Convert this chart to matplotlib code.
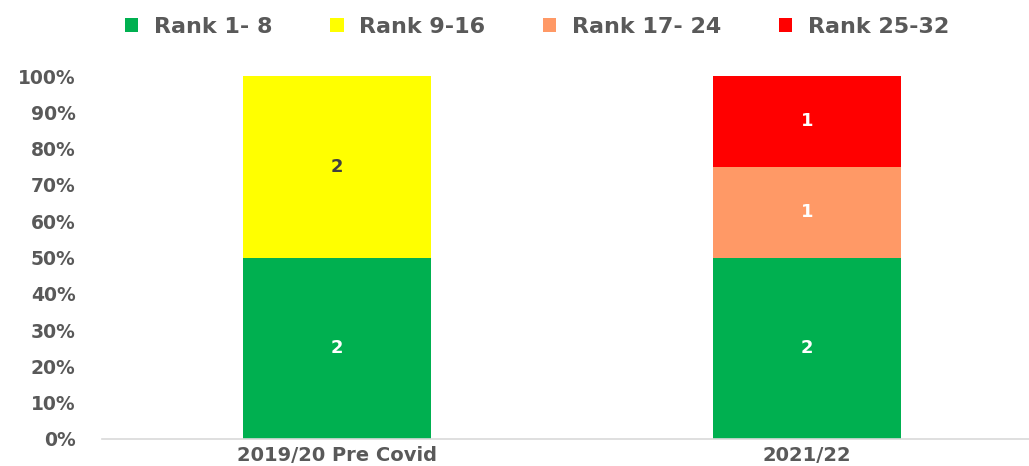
import matplotlib.pyplot as plt
import numpy as np

categories = ["2019/20 Pre Covid", "2021/22"]
series_names = ["Rank 1- 8", "Rank 9-16", "Rank 17- 24", "Rank 25-32"]
counts = [
    [2, 2],  # Rank 1-8
    [2, 0],  # Rank 9-16
    [0, 1],  # Rank 17-24
    [0, 1],  # Rank 25-32
]
colors = ["#00B050", "#FFFF00", "#FF9966", "#FF0000"]
label_colors = ["white", "#404040", "white", "white"]
yticks = [0, 0.1, 0.2, 0.3, 0.4, 0.5, 0.6, 0.7, 0.8, 0.9, 1.0]

GRAY = "#595959"

counts = np.array(counts, dtype=float)
shares = counts / counts.sum(axis=0)

fig = plt.figure(figsize=(10.29, 4.66), dpi=100)
ax = fig.add_axes([102 / 1029, 1 - 439 / 466, 940 / 1029, 363 / 466])

x = np.arange(len(categories))
bottom = np.zeros(len(categories))
for i, name in enumerate(series_names):
    ax.bar(x, shares[i], 0.4, bottom=bottom, color=colors[i], label=name)
    for j in range(len(categories)):
        if counts[i, j] > 0:
            ax.text(x[j], bottom[j] + shares[i, j] / 2, f"{int(counts[i, j])}",
                    ha="center", va="center", fontsize=13, fontweight="bold",
                    color=label_colors[i])
    bottom += shares[i]

ax.set_xlim(-0.5, 1.5)
ax.set_ylim(0, 1)
ax.set_yticks(yticks)
ax.set_yticklabels([f"{int(round(t * 100))}%" for t in yticks])
ax.set_xticks(x)
ax.set_xticklabels(categories)

for s in ["top", "right", "left"]:
    ax.spines[s].set_visible(False)
ax.spines["bottom"].set_color("#D9D9D9")
ax.spines["bottom"].set_linewidth(1.2)

ax.tick_params(axis="y", length=0, pad=19, labelsize=13.5, labelcolor=GRAY)
ax.tick_params(axis="x", length=0, pad=5, labelsize=14, labelcolor=GRAY)
for lbl in ax.get_yticklabels() + ax.get_xticklabels():
    lbl.set_fontweight("bold")

fig.legend(loc="center", bbox_to_anchor=(0.522, 1 - 27 / 466), ncol=4,
           frameon=False, prop={"size": 16, "weight": "bold"},
           labelcolor=GRAY, handlelength=0.6, handleheight=0.6,
           handletextpad=0.7, columnspacing=2.6)

fig.savefig("out.png", dpi=100)
